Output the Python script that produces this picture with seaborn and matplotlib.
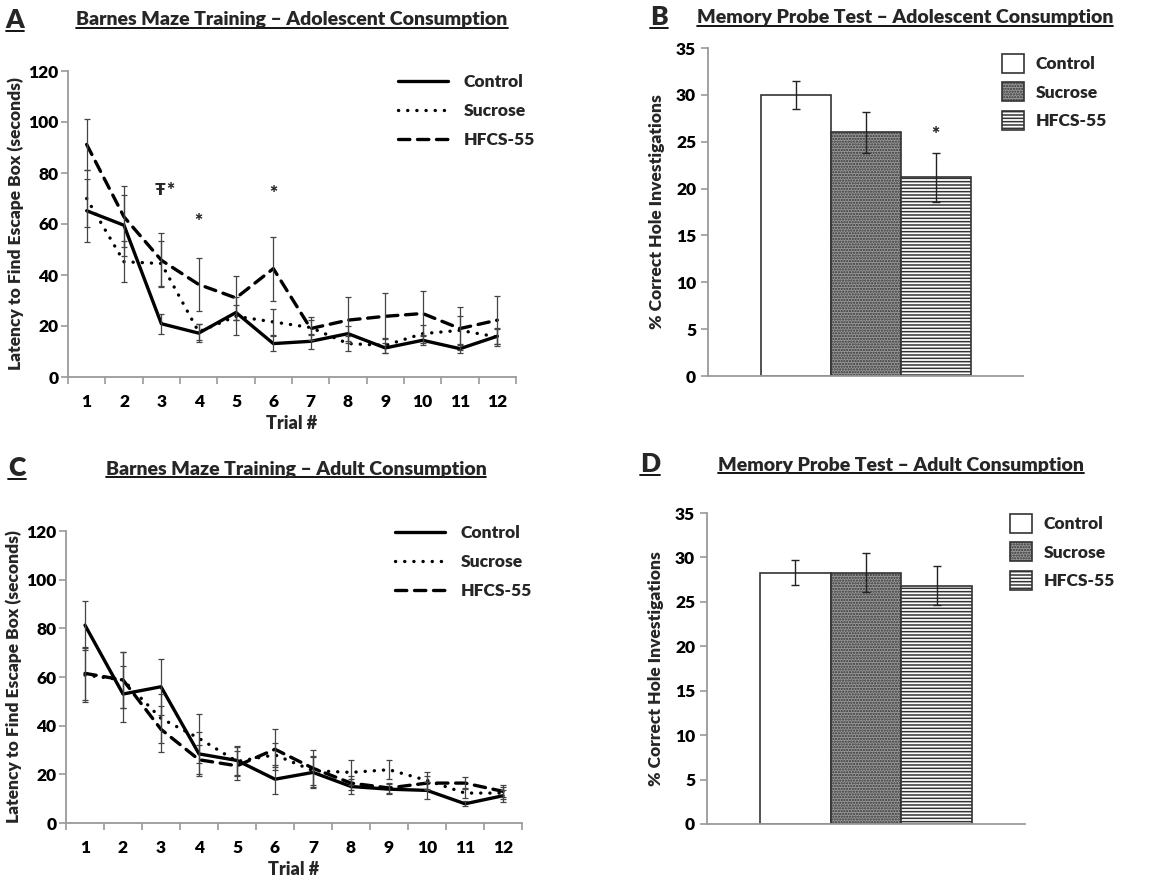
import numpy as np
import pandas as pd
import matplotlib
matplotlib.use('Agg')
import matplotlib.pyplot as plt
from matplotlib import font_manager as fm
import seaborn as sns
from matplotlib.lines import Line2D

# ---- data ----
trials = list(range(1, 13))
groups = ['Control', 'Sucrose', 'HFCS-55']

# A: adolescent consumption, latency (s)
adol_control = [65.2, 59.5, 20.9, 17.2, 25.3, 13.1, 14.0, 17.0, 11.4, 14.4, 11.1, 16.0]
adol_sucrose = [70.0, 45.2, 44.5, 17.7, 23.8, 21.6, 19.4, 13.1, 12.4, 17.0, 18.3, 15.7]
adol_hfcs = [91.2, 62.8, 45.8, 36.3, 31.0, 42.5, 19.0, 22.3, 23.8, 24.9, 19.0, 22.3]
adol_control_sem = [12.3, 12.0, 4.0, 3.5, 3.0, 3.0, 3.0, 3.0, 2.0, 2.0, 1.5, 3.0]
adol_sucrose_sem = [11.0, 8.0, 9.0, 3.0, 7.5, 5.0, 3.0, 3.0, 3.0, 3.5, 5.5, 3.5]
adol_hfcs_sem = [10.0, 12.0, 10.5, 10.5, 8.5, 12.5, 4.5, 9.0, 9.0, 9.0, 8.5, 9.5]

# C: adult consumption, latency (s)
adult_control = [81.3, 53.0, 56.0, 28.4, 25.7, 18.0, 20.8, 15.0, 13.9, 13.4, 7.9, 11.2]
adult_sucrose = [60.8, 58.8, 43.0, 34.8, 25.3, 28.0, 21.5, 20.8, 21.9, 17.5, 12.3, 12.3]
adult_hfcs = [61.5, 58.8, 38.5, 26.0, 23.5, 30.3, 22.5, 16.4, 14.4, 16.4, 16.4, 13.0]
adult_control_sem = [10.0, 11.5, 11.5, 9.0, 6.0, 6.0, 6.5, 3.0, 2.0, 3.5, 1.0, 2.5]
adult_sucrose_sem = [11.0, 11.5, 10.0, 10.0, 6.0, 5.0, 6.0, 5.0, 4.0, 3.5, 2.0, 2.5]
adult_hfcs_sem = [11.0, 11.5, 9.5, 6.0, 6.0, 8.5, 7.5, 3.0, 2.0, 3.0, 2.5, 2.5]

# B / D: memory probe, % correct hole investigations
probe_adol = [30.0, 26.0, 21.2]
probe_adol_sem = [1.5, 2.2, 2.6]
probe_adult = [28.3, 28.3, 26.8]
probe_adult_sem = [1.4, 2.2, 2.2]

sns.set_style('ticks')

# pick the first candidate family that actually has a bold face installed
fam = 'DejaVu Sans'
for cand in ['Lato', 'Open Sans', 'Roboto', 'Noto Sans', 'Liberation Sans']:
    if any(f.name == cand and f.weight in (700, 'bold') for f in fm.fontManager.ttflist):
        fam = cand
        break
WT = 'heavy'
plt.rcParams['font.family'] = [fam, 'DejaVu Sans']
plt.rcParams['font.weight'] = WT
plt.rcParams['axes.labelweight'] = WT
plt.rcParams['hatch.linewidth'] = 1.1

W, H = 1167, 883
fig = plt.figure(figsize=(W / 100, H / 100), dpi=100)


def px_axes(left, top, right, bottom):
    return fig.add_axes([left / W, 1 - bottom / H, (right - left) / W, (bottom - top) / H])


GRAY = '#9a9a9a'
dash_map = {'Control': '', 'Sucrose': (0.05, 2.7), 'HFCS-55': (3.4, 2.3)}


def style_axes(ax):
    sns.despine(ax=ax)
    for s in ['left', 'bottom']:
        ax.spines[s].set_color(GRAY)
        ax.spines[s].set_linewidth(1.3)
    ax.tick_params(axis='both', colors=GRAY, labelcolor='black', labelsize=12.5, width=1.2, length=5)
    for lab in ax.get_yticklabels() + ax.get_xticklabels():
        lab.set_fontweight(WT)


def line_panel(ax, means, sems, legend_xy):
    df = pd.DataFrame({
        'Trial': trials * 3,
        'Latency': sum(means, []),
        'Group': sum([[g] * 12 for g in groups], []),
    })
    sns.lineplot(data=df, x='Trial', y='Latency', style='Group', style_order=groups,
                 dashes=dash_map, color='black', linewidth=2.4, legend=False, ax=ax)
    handles = list(ax.lines[:3])
    for h in handles:
        h.set_dash_capstyle('round')
    for m, s in zip(means, sems):
        ax.errorbar(trials, m, yerr=s, fmt='none', ecolor='#444444', elinewidth=0.9,
                    capsize=2.5, capthick=0.9)
    ax.set_xlim(0.5, 12.5)
    ax.set_ylim(0, 120)
    ax.set_yticks(range(0, 121, 20))
    ax.set_xticks(trials)
    ax.set_xticks(np.arange(0.5, 13, 1), minor=True)
    style_axes(ax)
    ax.tick_params(axis='y', pad=2)
    ax.tick_params(axis='x', which='major', length=0, pad=12)
    ax.tick_params(axis='x', which='minor', length=5, width=1.2, colors=GRAY)
    ax.set_xlabel('Trial #', fontsize=13, labelpad=4)
    ax.set_ylabel('Latency to Find Escape Box (seconds)', fontsize=12.5, labelpad=3)
    ax.legend(handles, groups, loc='upper left', bbox_to_anchor=legend_xy,
              bbox_transform=fig.transFigure, frameon=False, fontsize=12.5,
              handlelength=2.9, handletextpad=0.9, labelspacing=0.75, borderpad=0,
              borderaxespad=0)


def bar_panel(ax, vals, sems, legend_xy, star=None):
    sns.barplot(x=groups, y=vals, order=groups, width=1, color='white',
                edgecolor='#333333', linewidth=1.2, errorbar=None, ax=ax)
    bars = ax.patches[:3]
    bars[1].set_facecolor('#9a9a9a')
    bars[1].set_hatch('......')
    bars[2].set_facecolor('white')
    bars[2].set_hatch('-----')
    ax.errorbar(range(3), vals, yerr=sems, fmt='none', ecolor='#222222', elinewidth=1.0,
                capsize=3, capthick=1.0)
    ax.set_xlim(-1.25, 3.25)
    ax.set_ylim(0, 35)
    ax.set_yticks(range(0, 36, 5))
    ax.set_xticks([])
    ax.set_xlabel('')
    style_axes(ax)
    ax.set_ylabel('% Correct Hole Investigations', fontsize=12.5, labelpad=8)
    if star is not None:
        ax.text(2, star, '*', ha='center', va='center', fontsize=14)
    ax.legend(bars, groups, loc='upper left', bbox_to_anchor=legend_xy,
              bbox_transform=fig.transFigure, frameon=False, fontsize=12.5,
              handlelength=1.25, handleheight=1.3, handletextpad=0.7, labelspacing=0.55,
              borderpad=0, borderaxespad=0)


axA = px_axes(68, 71, 516, 377)
line_panel(axA, [adol_control, adol_sucrose, adol_hfcs],
           [adol_control_sem, adol_sucrose_sem, adol_hfcs_sem], (398 / W, 1 - 74 / H))
axA.text(2.97, 73.5, 'Ŧ', ha='center', va='center', fontsize=12.5)
axA.text(3.25, 73.0, '*', ha='center', va='center', fontsize=14)
axA.text(4.0, 61.0, '*', ha='center', va='center', fontsize=14)
axA.text(6.0, 72.0, '*', ha='center', va='center', fontsize=14)

axC = px_axes(66, 531, 522, 823)
line_panel(axC, [adult_control, adult_sucrose, adult_hfcs],
           [adult_control_sem, adult_sucrose_sem, adult_hfcs_sem], (395 / W, 1 - 525 / H))

axB = px_axes(708, 48, 1023, 376)
bar_panel(axB, probe_adol, probe_adol_sem, (1002 / W, 1 - 54 / H), star=25.8)

axD = px_axes(707, 513, 1025, 824)
bar_panel(axD, probe_adult, probe_adult_sem, (1010 / W, 1 - 514 / H))

# panel titles and letters (underlined)
titles = [
    ('Barnes Maze Training – Adolescent Consumption', 292, 20),
    ('Memory Probe Test – Adolescent Consumption', 905, 18),
    ('Barnes Maze Training – Adult Consumption', 296, 470),
    ('Memory Probe Test – Adult Consumption', 901, 465),
]
letters = [('A', 15, 20), ('B', 659, 17), ('C', 17, 468), ('D', 650, 464)]
texts = []
for t, x, y in titles:
    texts.append(fig.text(x / W, 1 - y / H, t, ha='center', va='center', fontsize=14,
                          fontweight=WT))
for t, x, y in letters:
    texts.append(fig.text(x / W, 1 - y / H, t, ha='center', va='center', fontsize=19,
                          fontweight=WT))

fig.canvas.draw()
r = fig.canvas.get_renderer()
for t in texts:
    bb = t.get_window_extent(r)
    yline = bb.y0 + 1
    fig.add_artist(Line2D([bb.x0 / W, bb.x1 / W], [yline / H, yline / H],
                          color='black', linewidth=1.3, transform=fig.transFigure))

fig.savefig('out.png', dpi=100, facecolor='white')
